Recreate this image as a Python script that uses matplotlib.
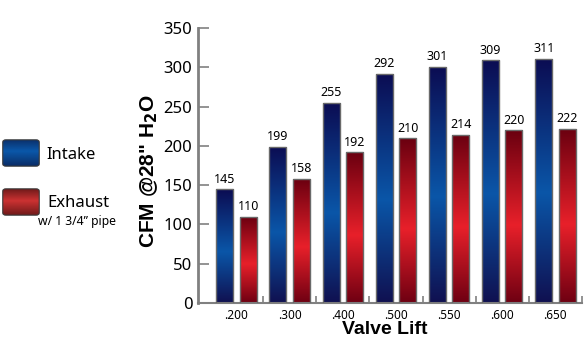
import numpy as np
import matplotlib
matplotlib.use("Agg")
import matplotlib.pyplot as plt
from matplotlib.colors import LinearSegmentedColormap
from matplotlib.patches import FancyBboxPatch

lifts = [".200", ".300", ".400", ".500", ".550", ".600", ".650"]
intake = [145, 199, 255, 292, 301, 309, 311]
exhaust = [110, 158, 192, 210, 214, 220, 222]

GREY = "#808080"
blue_cm = LinearSegmentedColormap.from_list(
    "blu", [(0, "#101050"), (0.45, "#0a56a8"), (1, "#0c0c52")])
red_cm = LinearSegmentedColormap.from_list(
    "red", [(0, "#6e0012"), (0.45, "#e8202a"), (1, "#6a0010")])

fig = plt.figure(figsize=(5.86, 3.44), dpi=100)
ax = fig.add_axes([198 / 586, 1 - 303 / 344, 384 / 586, 275 / 344])

grad = np.linspace(0, 1, 256).reshape(-1, 1)
x = np.arange(len(lifts))
w, off = 0.32, 0.22


def gradient_bars(xs, vals, cmap):
    bars = ax.bar(xs, vals, w, facecolor="none", edgecolor="#6a6a6a",
                  linewidth=1.0, zorder=3)
    for b in bars:
        x0, h = b.get_x(), b.get_height()
        im = ax.imshow(grad, extent=[x0, x0 + b.get_width(), 0, h],
                       origin="lower", aspect="auto", cmap=cmap, zorder=2)
        im.set_clip_path(b)
        ax.annotate(f"{h:.0f}", (b.get_x() + b.get_width() / 2, h),
                    textcoords="offset points", xytext=(0, 2.5),
                    ha="center", va="bottom", fontsize=9,
                    family="Noto Sans")
    return bars


gradient_bars(x - off, intake, blue_cm)
gradient_bars(x + off, exhaust, red_cm)

ax.set_xlim(-0.725, 6.5)
ax.set_ylim(0, 350)
ax.set_yticks(range(0, 351, 50))
ax.tick_params(axis="y", direction="in", length=8, width=1.2, color=GREY,
               labelsize=12, pad=4)
for t in ax.get_yticklabels():
    t.set_family("Noto Sans")

ax.set_xticks(np.arange(0.5, 7, 1))
ax.set_xticklabels([])
ax.tick_params(axis="x", which="major", direction="in", length=5,
               width=1.2, color=GREY)
ax.set_xticks(x, minor=True)
ax.set_xticklabels(lifts, minor=True, fontsize=8.5, family="Noto Sans")
ax.tick_params(axis="x", which="minor", length=0, pad=4)

for s in ("top", "right"):
    ax.spines[s].set_visible(False)
ax.spines["left"].set_color(GREY)
ax.spines["left"].set_linewidth(2)
ax.spines["bottom"].set_color(GREY)
ax.spines["bottom"].set_linewidth(1.5)

ax.set_ylabel(r'CFM @28" H$_\mathbf{2}$O', fontsize=15, fontweight="bold",
              family="Liberation Sans")
ax.yaxis.set_label_coords(-0.10, 0.48)
fig.text(385 / 586, 1 - 330 / 344, "Valve Lift", ha="center", va="center",
         fontsize=14, fontweight="bold", family="Liberation Sans")

# legend with gradient swatches
blue_leg = LinearSegmentedColormap.from_list(
    "bl", [(0, "#0a2a62"), (0.45, "#0a58aa"), (1, "#0a2a62")])
red_leg = LinearSegmentedColormap.from_list(
    "rl", [(0, "#6a1818"), (0.45, "#cc3232"), (1, "#6a1818")])
for top, cm in ((139, blue_leg), (188, red_leg)):
    lax = fig.add_axes([2 / 586, 1 - (top + 28) / 344, 38 / 586, 28 / 344])
    lax.set_axis_off()
    im = lax.imshow(np.linspace(0, 1, 128).reshape(-1, 1), cmap=cm,
                    extent=[0, 1, 0, 1], aspect="auto")
    box = FancyBboxPatch((0.02, 0.03), 0.96, 0.94,
                         boxstyle="round,pad=0,rounding_size=0.08",
                         transform=lax.transAxes, facecolor="none",
                         edgecolor="#3a3a3a", linewidth=0.8)
    lax.add_patch(box)
    im.set_clip_path(box)
    lax.set_xlim(0, 1)
    lax.set_ylim(0, 1)

fig.text(46 / 586, 1 - 155 / 344, "Intake", fontsize=12, va="center",
         family="Noto Sans")
fig.text(47 / 586, 1 - 203 / 344, "Exhaust", fontsize=12, va="center",
         family="Noto Sans")
fig.text(38 / 586, 1 - 222 / 344, "w/ 1 3/4\u201d pipe", fontsize=8.8,
         va="center", family="Noto Sans")

fig.savefig("out.png", dpi=100)
